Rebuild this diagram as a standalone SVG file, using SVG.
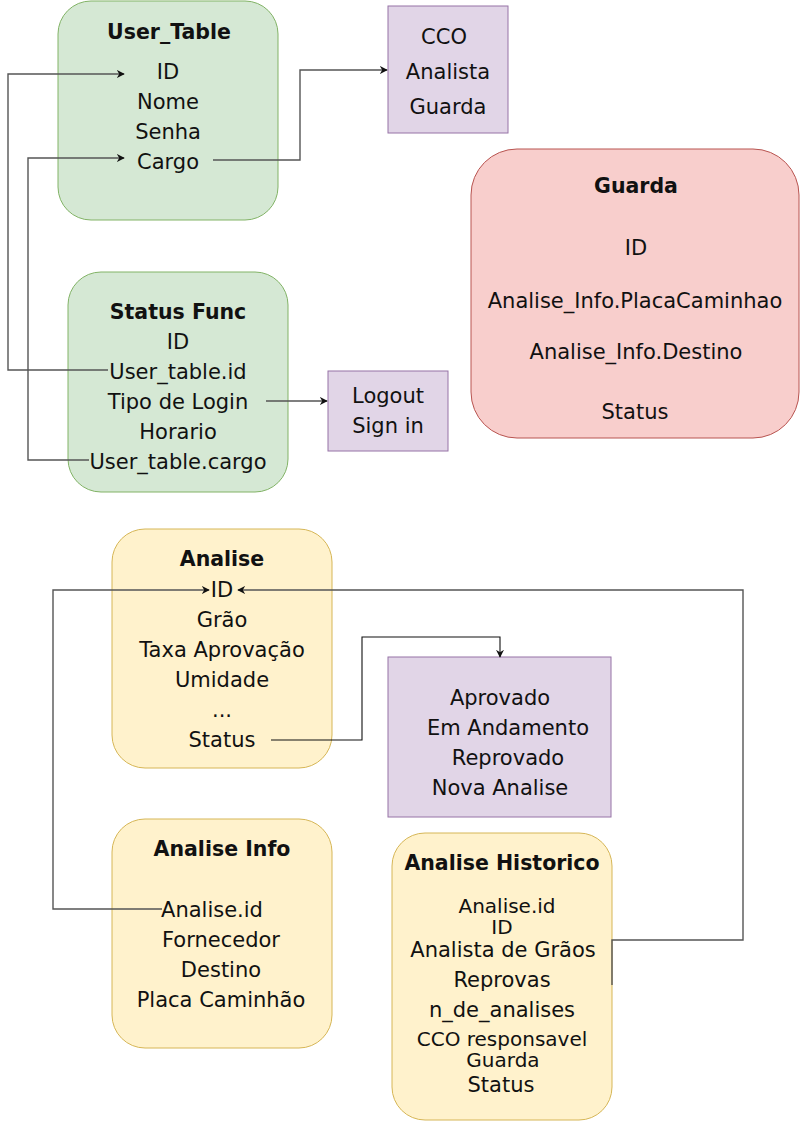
<svg xmlns="http://www.w3.org/2000/svg" width="800" height="1122" viewBox="0 0 800 1122">
<defs>
<style>
text{font-family:"DejaVu Sans","Liberation Sans",sans-serif;font-size:21px;fill:#111;text-anchor:middle;dominant-baseline:central}
.t{font-weight:bold;font-size:20.5px}
.s{font-size:20px}
.green{fill:#d5e8d4;stroke:#82b366;stroke-width:1}
.purple{fill:#e1d5e7;stroke:#9673a6;stroke-width:1}
.red{fill:#f8cecc;stroke:#b85450;stroke-width:1}
.yellow{fill:#fff2cc;stroke:#d6b656;stroke-width:1}
.edge{fill:none;stroke:#555;stroke-width:1.4}
.edge2{fill:none;stroke:#111;stroke-width:1.1}
</style>
<marker id="arr" viewBox="0 0 10 10" refX="9" refY="5" markerWidth="8" markerHeight="8" markerUnits="userSpaceOnUse" orient="auto">
<path d="M0,0 L10,5 L0,10 L3,5 Z" fill="#111"/>
</marker>
</defs>
<rect width="800" height="1122" fill="#fff"/>

<g id="user_table">
<rect class="green" x="58" y="1" width="220" height="219" rx="33"/>
<text class="t" x="169" y="32">User_Table</text>
<text x="168" y="72">ID</text>
<text x="168" y="102">Nome</text>
<text x="168" y="132">Senha</text>
<text x="168" y="162">Cargo</text>
</g>

<g id="cargos">
<rect class="purple" x="388" y="6" width="120" height="127"/>
<text x="444" y="37">CCO</text>
<text x="448" y="72">Analista</text>
<text x="448" y="107">Guarda</text>
</g>

<g id="guarda">
<rect class="red" x="471" y="149" width="328" height="289" rx="46"/>
<text class="t" x="636" y="186">Guarda</text>
<text x="636" y="248">ID</text>
<text x="635" y="301">Analise_Info.PlacaCaminhao</text>
<text x="636" y="352">Analise_Info.Destino</text>
<text x="635" y="412">Status</text>
</g>

<g id="status_func">
<rect class="green" x="68" y="272" width="220" height="220" rx="33"/>
<text class="t" x="178" y="312">Status Func</text>
<text x="178" y="342">ID</text>
<text x="178" y="372">User_table.id</text>
<text x="178" y="402">Tipo de Login</text>
<text x="178" y="432">Horario</text>
<text x="178" y="462">User_table.cargo</text>
</g>

<g id="login_types">
<rect class="purple" x="328" y="371" width="120" height="80"/>
<text x="388" y="396">Logout</text>
<text x="388" y="426">Sign in</text>
</g>

<g id="analise">
<rect class="yellow" x="112" y="529" width="220" height="239" rx="33"/>
<text class="t" x="222" y="559">Analise</text>
<text x="222" y="590">ID</text>
<text x="222" y="620">Grão</text>
<text x="222" y="650">Taxa Aprovação</text>
<text x="222" y="680">Umidade</text>
<text x="222" y="710">...</text>
<text x="222" y="740">Status</text>
</g>

<g id="status_values">
<rect class="purple" x="388" y="657" width="223" height="160"/>
<text x="500" y="698">Aprovado</text>
<text x="508" y="728">Em Andamento</text>
<text x="508" y="758">Reprovado</text>
<text x="500" y="788">Nova Analise</text>
</g>

<g id="analise_info">
<rect class="yellow" x="112" y="819" width="220" height="229" rx="33"/>
<text class="t" x="222" y="849">Analise Info</text>
<text x="212" y="910">Analise.id</text>
<text x="221" y="940">Fornecedor</text>
<text x="221" y="970">Destino</text>
<text x="221" y="1000">Placa Caminhão</text>
</g>

<g id="analise_historico">
<rect class="yellow" x="392" y="833" width="220" height="287" rx="33"/>
<text class="t" x="502" y="863">Analise Historico</text>
<text class="s" x="507" y="906">Analise.id</text>
<text class="s" x="502" y="927">ID</text>
<text x="503" y="950">Analista de Grãos</text>
<text x="502" y="980">Reprovas</text>
<text x="502" y="1010">n_de_analises</text>
<text class="s" x="502" y="1039">CCO responsavel</text>
<text class="s" x="503" y="1060">Guarda</text>
<text x="501" y="1085">Status</text>
</g>

<g id="connectors">
<path class="edge" d="M108 370 H8 V74 H124" marker-end="url(#arr)"/>
<path class="edge" d="M89 460 H28 V158 H124" marker-end="url(#arr)"/>
<path class="edge" d="M213 160 H300 V70 H387" marker-end="url(#arr)"/>
<path class="edge" d="M266 401 H327" marker-end="url(#arr)"/>
<path class="edge2" d="M271 740 H362 V637 H500 V657" marker-end="url(#arr)"/>
<path class="edge" d="M162 909 H53 V590 H209" marker-end="url(#arr)"/>
<path class="edge" d="M612 985 V940 H743 V590 H238" marker-end="url(#arr)"/>
</g>
</svg>
